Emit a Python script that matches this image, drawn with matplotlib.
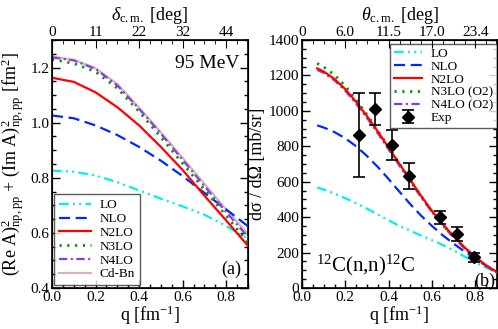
import numpy as np
import matplotlib
matplotlib.use("Agg")
import matplotlib.pyplot as plt
from matplotlib.ticker import MultipleLocator, FixedLocator

plt.rcParams['font.family'] = ['Liberation Serif', 'DejaVu Serif']
plt.rcParams['mathtext.fontset'] = 'custom'
plt.rcParams['mathtext.rm'] = 'Liberation Serif'
plt.rcParams['mathtext.it'] = 'Liberation Serif:italic'
plt.rcParams['mathtext.bf'] = 'Liberation Serif:bold'
plt.rcParams['lines.scale_dashes'] = False

# ---- panel (a): squared amplitudes at 95 MeV ----
q_a = [0.0, 0.1, 0.2, 0.3, 0.4, 0.5, 0.6, 0.7, 0.8, 0.9]
lo_a = [0.826, 0.822, 0.808, 0.784, 0.754, 0.724, 0.696, 0.666, 0.625, 0.578]
nlo_a = [1.026, 1.016, 0.99, 0.955, 0.912, 0.862, 0.806, 0.745, 0.685, 0.624]
n2lo_a = [1.163, 1.148, 1.11, 1.056, 0.99, 0.912, 0.828, 0.735, 0.645, 0.553]
n3lo_a = [1.23, 1.215, 1.185, 1.125, 1.04, 0.947, 0.852, 0.757, 0.662, 0.565]
n4lo_a = [1.237, 1.226, 1.195, 1.135, 1.05, 0.96, 0.865, 0.77, 0.675, 0.585]
cdbn_a = [1.24, 1.228, 1.198, 1.14, 1.055, 0.965, 0.872, 0.778, 0.685, 0.595]
top_a = ['0', '11', '22', '32', '44']

# ---- panel (b): 12C(n,n)12C cross section ----
q_b = [0.07, 0.1, 0.15, 0.2, 0.25, 0.3, 0.35, 0.4, 0.45, 0.5, 0.55, 0.6,
       0.65, 0.7, 0.75, 0.8, 0.85, 0.9]
lo_b = [568, 556, 533, 507, 478, 448, 415, 382, 350, 323, 296, 270, 243,
        212, 178, 145, 115, 88]
nlo_b = [918, 906, 880, 845, 800, 745, 683, 615, 543, 473, 408, 350, 297,
         250, 206, 165, 125, 88]
n2lo_b = [1240, 1222, 1180, 1122, 1050, 970, 883, 792, 700, 610, 520, 435,
          360, 292, 230, 175, 128, 90]
n3lo_b = [1268, 1248, 1203, 1140, 1062, 978, 888, 795, 700, 608, 518, 432,
          356, 288, 227, 172, 125, 85]
n4lo_b = [1232, 1214, 1172, 1113, 1040, 960, 873, 782, 690, 600, 512, 428,
          352, 285, 224, 170, 124, 85]
q_exp = [0.264, 0.336, 0.417, 0.492, 0.639, 0.716, 0.792]
sig_exp = [862, 1012, 808, 632, 398, 305, 173]
err_exp = [237, 90, 85, 72, 38, 38, 25]
top_b = ['0', '6.0', '11.5', '17.0', '23.4']

C_LO = '#00f0f0'
C_NLO = '#0028ff'
C_N2LO = '#ff0000'
C_N3LO = '#009a00'
C_N4LO = '#8c3ce0'
C_CDBN = '#d4b6b6'
LW = 1.6
D_LO = (0, (7, 3, 1.5, 3, 1.5, 3))
D_NLO = (0, (8, 4))
D_N3LO = (0, (1.6, 4))
D_N4LO = (0, (6, 2.5, 1.5, 2.5))
TS = 11

fig = plt.figure(figsize=(4.98, 3.29), dpi=100)
ax1 = fig.add_axes([52 / 498, 41 / 329, 196 / 498, 248 / 329])
ax2 = fig.add_axes([302 / 498, 41 / 329, 195 / 498, 248 / 329])


def style(ax, top_labels, ymaj, ymin):
    ax.set_xlim(0, 0.9)
    ax.xaxis.set_major_locator(MultipleLocator(0.2))
    ax.xaxis.set_minor_locator(MultipleLocator(0.05))
    ax.yaxis.set_major_locator(MultipleLocator(ymaj))
    ax.yaxis.set_minor_locator(MultipleLocator(ymin))
    ax.tick_params(which='both', direction='in', right=True, labelsize=TS,
                   width=1, pad=2)
    ax.tick_params(which='major', length=6)
    ax.tick_params(which='minor', length=3)
    ax.xaxis.set_major_formatter(matplotlib.ticker.FormatStrFormatter('%.1f'))
    for s in ax.spines.values():
        s.set_linewidth(1.2)
    tx = ax.twiny()
    tx.set_xlim(0, 0.9)
    tx.xaxis.set_major_locator(FixedLocator([0, 0.2, 0.4, 0.6, 0.8]))
    tx.xaxis.set_minor_locator(MultipleLocator(0.05))
    tx.set_xticklabels(top_labels)
    tx.tick_params(which='both', direction='in', labelsize=TS, pad=1)
    tx.tick_params(which='major', length=6)
    tx.tick_params(which='minor', length=3)
    return tx


# panel (a)
t1 = style(ax1, top_a, 0.2, 0.05)
ax1.set_ylim(0.4, 1.3)
ax1.plot(q_a, cdbn_a, color=C_CDBN, lw=LW, label='Cd-Bn', zorder=2)
ax1.plot(q_a, lo_a, color=C_LO, lw=LW, ls=D_LO, label='LO', zorder=3)
ax1.plot(q_a, nlo_a, color=C_NLO, lw=LW, ls=D_NLO, label='NLO', zorder=3)
ax1.plot(q_a, n2lo_a, color=C_N2LO, lw=LW, label='N2LO', zorder=3)
ax1.plot(q_a, n3lo_a, color=C_N3LO, lw=LW + 0.4, ls=D_N3LO, label='N3LO', zorder=3)
ax1.plot(q_a, n4lo_a, color=C_N4LO, lw=LW, ls=D_N4LO, label='N4LO', zorder=3)
h, l = ax1.get_legend_handles_labels()
order = [1, 2, 3, 4, 5, 0]
leg1 = ax1.legend([h[i] for i in order], [l[i] for i in order], loc='lower left',
                  bbox_to_anchor=(0.012, 0.012), fontsize=9.5, frameon=True,
                  fancybox=False, edgecolor='#333333', handlelength=2.4,
                  handletextpad=0.7, labelspacing=0.12, borderpad=0.35,
                  borderaxespad=0)
leg1.get_frame().set_linewidth(1.0)
ax1.text(0.955, 0.905, '95 MeV', transform=ax1.transAxes, ha='right', va='center',
         fontsize=14)
ax1.text(0.965, 0.04, '(a)', transform=ax1.transAxes, ha='right', va='bottom',
         fontsize=13)
ax1.set_xlabel('q [fm$^{-1}$]', fontsize=13, labelpad=0)
ax1.set_ylabel(r'(Re A)$^2_{\mathrm{np,pp}}$ + (Im A)$^2_{\mathrm{np,pp}}$ [fm$^2$]',
               fontsize=13, labelpad=2)
t1.set_xlabel(r'$\delta_{\mathrm{c.m.}}$ [deg]', fontsize=13, labelpad=4)

# panel (b)
t2 = style(ax2, top_b, 200, 50)
ax2.set_ylim(0, 1400)
ax2.plot(q_b, lo_b, color=C_LO, lw=LW, ls=D_LO, label='LO', zorder=3)
ax2.plot(q_b, nlo_b, color=C_NLO, lw=LW, ls=D_NLO, label='NLO', zorder=3)
ax2.plot(q_b, n4lo_b, color=C_N4LO, lw=LW, ls=D_N4LO, label='N4LO (O2)', zorder=3)
ax2.plot(q_b, n3lo_b, color=C_N3LO, lw=LW + 0.4, ls=D_N3LO, label='N3LO (O2)', zorder=3)
ax2.plot(q_b, n2lo_b, color=C_N2LO, lw=LW, label='N2LO', zorder=4)
ax2.errorbar(q_exp, sig_exp, yerr=err_exp, fmt='D', color='black', ms=6,
             capsize=4.5, elinewidth=1.2, capthick=1.2, label='Exp', zorder=5)
h, l = ax2.get_legend_handles_labels()
order = [0, 1, 4, 3, 2, 5]
leg2 = ax2.legend([h[i] for i in order], [l[i] for i in order], loc='upper right',
                  bbox_to_anchor=(1.0, 0.985), fontsize=9.5, frameon=True,
                  fancybox=False, edgecolor='#333333', handlelength=2.1,
                  handletextpad=0.7, labelspacing=0.05, borderpad=0.3,
                  borderaxespad=0)
leg2.get_frame().set_linewidth(1.0)
ax2.text(0.07, 0.04, r'$^{12}$C(n,n)$^{12}$C', transform=ax2.transAxes,
         ha='left', va='bottom', fontsize=15)
ax2.text(0.99, -0.01, '(b)', transform=ax2.transAxes, ha='right', va='bottom',
         fontsize=13)
ax2.set_xlabel('q [fm$^{-1}$]', fontsize=13, labelpad=0)
ax2.set_ylabel('dσ / dΩ [mb/sr]', fontsize=13, labelpad=2)
t2.set_xlabel(r'$\theta_{\mathrm{c.m.}}$ [deg]', fontsize=13, labelpad=4)

fig.savefig('out.png', dpi=100)
